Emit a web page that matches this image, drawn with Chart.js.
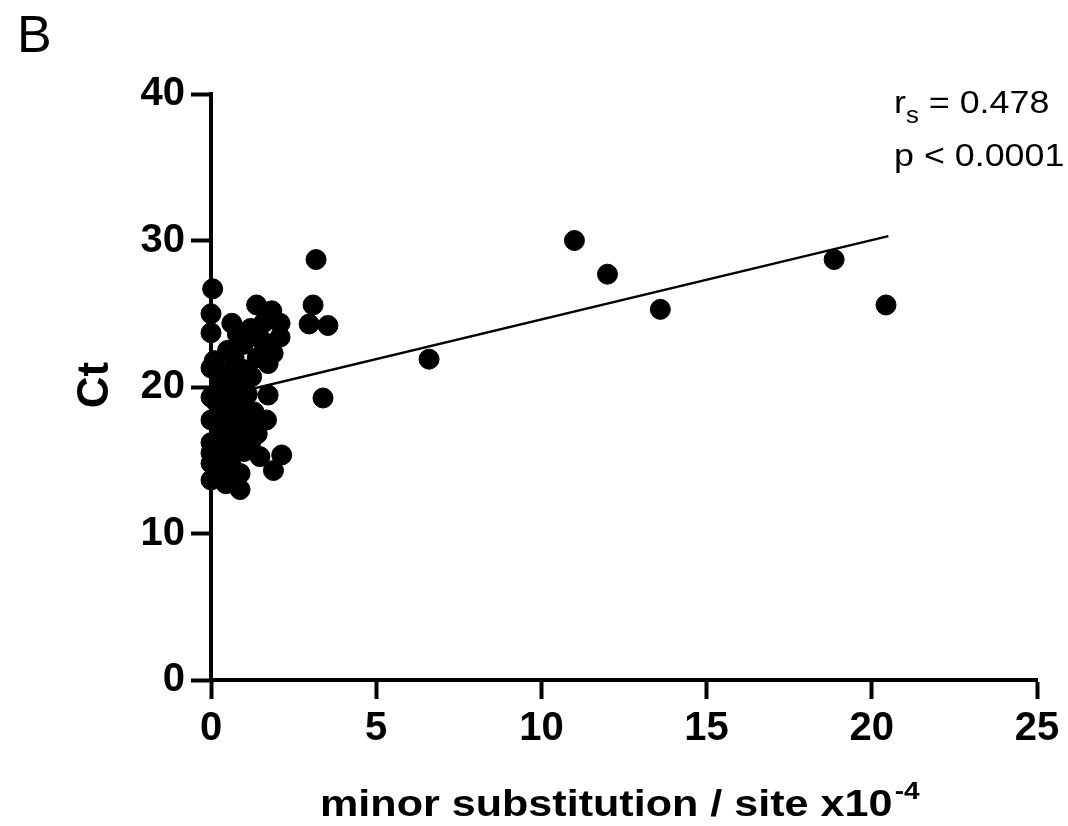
<!DOCTYPE html>
<html>
<head>
<meta charset="utf-8">
<script src="https://cdn.jsdelivr.net/npm/chart.js@4"></script>
<style>
  html, body { margin: 0; padding: 0; background: #fff; }
  #wrap { width: 1068px; height: 826px; }
</style>
</head>
<body>
<div id="wrap"><canvas id="myChart" width="1068" height="826"></canvas></div>
<script>
// minor substitution / site (x10^-4)
const subst = [
  0.05, 0.0, 1.38, 1.84, 0.63, 2.09, 0.0, 2.09, 0.5, 0.97,
  1.53, 1.88, 0.0, 0.97, 1.73, 0.67, 1.23, 1.73, 0.0, 0.58,
  1.68, 1.08, 0.0, 0.37, 0.0, 0.88, 0.67, 1.48, 2.14, 1.89,
  0.0, 0.0, 0.88, 0.88, 0.37, 0.0, 0.3, 0.25, 0.5, 0.8,
  1.1, 1.3, 0.6, 1.0, 0.2, 0.5, 1.0, 0.3, 0.6, 0.2,
  0.1, 0.4, 1.4, 0.8, 1.2, 1.6, 1.0, 0.15, 0.7, 1.4,
  1.2, 0.45, 0.3, 0.45, 0.75, 0.3, 0.7, 0.4, 0.9, 0.55,
  1.1, 0.2, 0.9, 1.2,
  3.09, 3.18, 2.97, 3.54, 3.39, 6.6, 11.0, 12.0,
  13.6, 18.86, 20.43
]
// Ct values
const ct = [
  26.7, 25.0, 25.6, 25.2, 24.35, 24.35, 23.7, 23.4, 22.5, 22.9,
  23.2, 22.3, 21.3, 21.2, 21.6, 20.5, 20.7, 19.45, 19.3, 18.9,
  17.75, 17.5, 17.75, 17.1, 16.2, 16.6, 15.7, 15.25, 15.36, 14.3,
  14.8, 13.65, 14.1, 13.0, 14.3, 15.5, 20.0, 18.2, 19.6, 19.0,
  19.5, 18.3, 17.8, 18.4, 16.5, 16.0, 15.6, 15.0, 14.7, 13.8,
  21.8, 21.0, 22.0, 23.6, 24.0, 24.4, 20.0, 19.0, 22.0, 16.8,
  16.2, 13.4, 19.0, 18.5, 18.0, 17.5, 16.8, 15.6, 17.2, 20.3,
  21.0, 21.0, 20.4, 17.0,
  25.6, 28.7, 24.3, 24.2, 19.25, 21.9, 30.0, 27.7,
  25.3, 28.7, 25.6
]
// linear fit end points
const fitX = [0, 20.5]
const fitY = [19.2, 30.3]

const xTicks = [0, 5, 10, 15, 20, 25]
const yTicks = [0, 10, 20, 30, 40]

const puntos = subst.map((v, i) => ({ x: v, y: ct[i] }))
const linea = fitX.map((v, i) => ({ x: v, y: fitY[i] }))

const FONT = "'Liberation Sans', Arial, sans-serif"

const textos = {
  id: 'textos',
  afterDraw(chart) {
    const c = chart.ctx
    c.save()
    c.fillStyle = '#000'
    c.textBaseline = 'alphabetic'
    // panel letter
    c.font = '52px ' + FONT
    c.textAlign = 'left'
    c.fillText('B', 17, 52)
    // y title
    c.save()
    c.translate(108, 385)
    c.rotate(-Math.PI / 2)
    c.font = 'bold 44px ' + FONT
    c.textAlign = 'center'
    c.fillText('Ct', 0, 0)
    c.restore()
    // x title with superscript
    c.save()
    c.translate(320, 816)
    c.scale(1.165, 1)
    c.font = 'bold 37px ' + FONT
    c.textAlign = 'left'
    const t = 'minor substitution / site x10'
    c.fillText(t, 0, 0)
    const w = c.measureText(t).width
    c.font = 'bold 24px ' + FONT
    c.fillText('-4', w + 2, -17)
    c.restore()
    // stats
    c.save()
    c.translate(894, 0)
    c.scale(1.12, 1)
    c.font = '32px ' + FONT
    c.fillText('r', 0, 113)
    const rw = c.measureText('r').width
    c.font = '23px ' + FONT
    c.fillText('s', rw, 123)
    const sw = c.measureText('s').width
    c.font = '32px ' + FONT
    c.fillText(' = 0.478', rw + sw, 113)
    c.fillText('p < 0.0001', 0, 166)
    c.restore()
    c.restore()
  }
}

const ctx = document.getElementById('myChart')
const myChart = new Chart(ctx, {
  type: 'scatter',
  data: {
    datasets: [{
      label: 'Ct',
      data: puntos,
      backgroundColor: '#000',
      borderColor: '#000',
      pointRadius: 10,
      pointHoverRadius: 10,
      clip: false
    }, {
      type: 'line',
      label: 'fit',
      data: linea,
      borderColor: '#000',
      borderWidth: 2.5,
      pointRadius: 0,
      fill: false
    }]
  },
  options: {
    responsive: false,
    animation: false,
    layout: { padding: { top: 94, right: 31, left: 0, bottom: 0 } },
    plugins: { legend: { display: false }, tooltip: { enabled: false } },
    scales: {
      x: {
        type: 'linear',
        min: 0, max: 25,
        afterBuildTicks: s => { s.ticks = xTicks.map(v => ({ value: v })) },
        afterFit: s => { s.height = 146 },
        border: { display: true, color: '#000', width: 4 },
        grid: { display: true, drawOnChartArea: false, drawTicks: true, tickLength: 19, tickWidth: 4, color: '#000' },
        ticks: { color: '#000', padding: 6, font: { family: FONT, size: 40, weight: 'bold' }, maxRotation: 0 }
      },
      y: {
        type: 'linear',
        min: 0, max: 40,
        afterBuildTicks: s => { s.ticks = yTicks.map(v => ({ value: v })) },
        afterFit: s => { s.width = 211 },
        border: { display: true, color: '#000', width: 4 },
        grid: { display: true, drawOnChartArea: false, drawTicks: true, tickLength: 20, tickWidth: 4, color: '#000' },
        ticks: { color: '#000', padding: 6, font: { family: FONT, size: 40, weight: 'bold' } }
      }
    }
  },
  plugins: [textos]
})
</script>
</body>
</html>
